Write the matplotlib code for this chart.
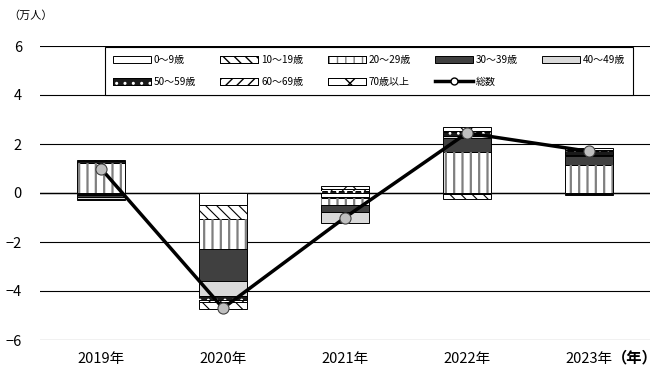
import matplotlib
matplotlib.use("Agg")
import matplotlib.pyplot as plt
import numpy as np
from matplotlib.patches import Patch
from matplotlib.lines import Line2D
from matplotlib.legend_handler import HandlerTuple

plt.rcParams['font.family'] = ['Noto Sans CJK JP', 'DejaVu Sans']

# 年次と年齢階級別の増減（万人）
years = ['2019年', '2020年', '2021年', '2022年', '2023年']
labels = ['0～9歳', '10～19歳', '20～29歳', '30～39歳', '40～49歳',
          '50～59歳', '60～69歳', '70歳以上']
age_0_9 = [-0.05, -0.50, -0.15, -0.05, -0.05]
age_10_19 = [-0.05, -0.55, -0.05, -0.20, -0.05]
age_20_29 = [1.22, -1.25, -0.28, 1.67, 1.14]
age_30_39 = [-0.05, -1.30, -0.30, 0.57, 0.37]
age_40_49 = [-0.08, -0.60, -0.45, 0.10, 0.05]
age_50_59 = [0.08, -0.15, 0.10, 0.15, 0.15]
age_60_69 = [0.05, -0.10, 0.05, 0.05, 0.03]
age_70 = [-0.07, -0.30, 0.13, 0.15, 0.08]
total = [1.0, -4.7, -1.0, 2.45, 1.7]

series = [age_0_9, age_10_19, age_20_29, age_30_39, age_40_49,
          age_50_59, age_60_69, age_70]

# (塗り, ハッチ, ハッチ色)
styles = [
    ('white', None, None),
    ('white', '\\\\\\', 'black'),
    ('white', '||', '#7f7f7f'),
    ('#404040', None, None),
    ('#d9d9d9', None, None),
    ('#1a1a1a', '..', 'white'),
    ('white', '///', 'black'),
    ('white', 'x', 'black'),
]

fig = plt.figure(figsize=(6.61, 3.72), dpi=100)
ax = fig.add_axes([40 / 661, 32 / 372, 610 / 661, 294 / 372])

x = np.arange(len(years))
width = 0.39
pos_base = np.zeros(len(years))
neg_base = np.zeros(len(years))
handles = []
for vals, (fc, hatch, hc), lab in zip(series, styles, labels):
    vals = np.array(vals)
    bottom = np.where(vals >= 0, pos_base, neg_base)
    ax.bar(x, vals, width, bottom=bottom, color=fc, edgecolor='black',
           linewidth=0.7, zorder=2)
    parts = [Patch(facecolor=fc, edgecolor='black', linewidth=0.7)]
    if hatch:
        with plt.rc_context({'hatch.linewidth': 1.6 if hatch == '||' else 0.8}):
            ax.bar(x, vals, width, bottom=bottom, color='none', edgecolor=hc,
                   linewidth=0, hatch=hatch, zorder=2.5)
            parts.append(Patch(facecolor='none', edgecolor=hc, linewidth=0, hatch=hatch))
        parts.append(Patch(facecolor='none', edgecolor='black', linewidth=0.7))
    handles.append(tuple(parts))
    pos_base = pos_base + np.where(vals >= 0, vals, 0)
    neg_base = neg_base + np.where(vals < 0, vals, 0)

ax.plot(x, total, color='black', linewidth=2.5, marker='o', markersize=8,
        markerfacecolor='#bfbfbf', markeredgecolor='#404040',
        markeredgewidth=0.8, zorder=4)
total_handle = Line2D([], [], color='black', linewidth=2.5, marker='o',
                      markersize=5, markerfacecolor='white',
                      markeredgecolor='black')

ax.set_xlim(-0.5, len(years) - 0.5)
ax.set_ylim(-6, 6)
ax.set_yticks(np.arange(-6, 7, 2))
ax.set_xticks(x)
ax.set_xticklabels(years, fontsize=10.5)
ax.tick_params(axis='y', labelsize=10.5, length=0, pad=13)
ax.tick_params(axis='x', length=0, pad=9)
for s in ax.spines.values():
    s.set_visible(False)
ax.grid(axis='y', color='black', linewidth=0.8, zorder=0)
ax.axhline(0, color='black', linewidth=1.0, zorder=1)

# 凡例は行方向に並べる
order = [0, 5, 1, 6, 2, 7, 3, 8, 4]
all_handles = handles + [total_handle]
all_labels = labels + ['総数']
leg = ax.legend([all_handles[i] for i in order], [all_labels[i] for i in order],
                ncol=5, loc='upper left', bbox_to_anchor=(60 / 610, 1.014),
                fontsize=7.2, frameon=True, fancybox=False, edgecolor='black',
                framealpha=1, handlelength=3.8, handleheight=0.7,
                handletextpad=0.3, columnspacing=2.4, borderpad=0.8,
                labelspacing=1.2,
                handler_map={tuple: HandlerTuple(ndivide=1)})
leg.get_frame().set_linewidth(0.8)
leg.set_zorder(5)

fig.text(8 / 661, 1 - 16 / 372, '（万人）', fontsize=8, va='center', ha='left')
fig.text(612 / 661, 1 - 357 / 372, '（年）', fontsize=11, va='center', ha='left',
         fontweight='bold')

fig.savefig('out.png', dpi=100)
